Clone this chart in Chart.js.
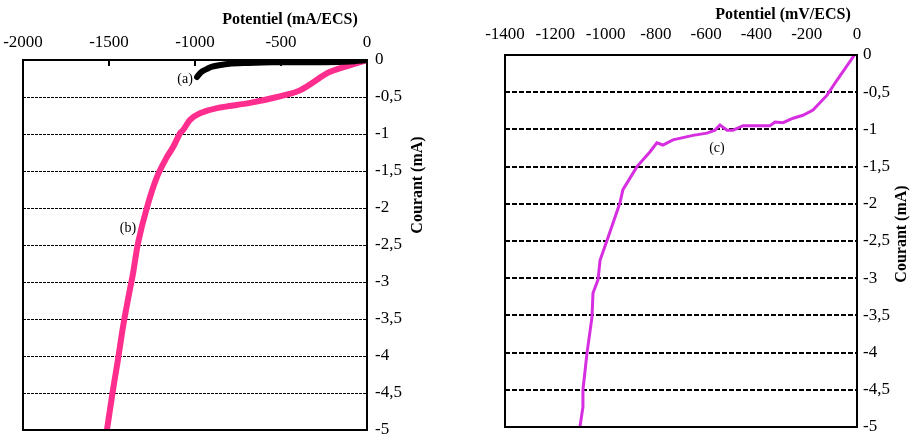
<!DOCTYPE html>
<html lang="fr">
<head>
<meta charset="UTF-8">
<title>Courbes de polarisation</title>
<style>
    body { margin: 0; background: #fff; }
    .panel { position: absolute; top: 0; }
    #left { left: 0; }
    #right { left: 457px; }
</style>
</head>
<body>
<div class="panel" id="left"><canvas id="chartLeft" width="457" height="435"></canvas></div>
<div class="panel" id="right"><canvas id="chartRight" width="457" height="435"></canvas></div>

<script src="https://cdn.jsdelivr.net/npm/chart.js"></script>
<script>
// courbe (a) - noir
const potA = [-988, -975, -955, -930, -900, -860, -800, -700, -550, -400, -250, -100, 0];
const courantA = [-0.23, -0.19, -0.15, -0.12, -0.09, -0.07, -0.05, -0.04, -0.03, -0.03, -0.03, -0.02, 0];

// courbe (b) - rose
const potB = [-1512, -1477, -1448, -1419, -1390, -1360, -1331, -1279, -1221, -1163, -1128, -1087, -1070, -1029, -971, -872, -680, -523, -390, -215, -40, 0];
const courantB = [-5.0, -4.46, -4.05, -3.61, -3.24, -2.88, -2.47, -1.99, -1.58, -1.31, -1.18, -0.99, -0.95, -0.81, -0.72, -0.65, -0.58, -0.50, -0.41, -0.16, -0.03, 0];

// courbe (c) - magenta
const potC = [-1102, -1090, -1090, -1074, -1054, -1050, -1030, -1022, -994, -943, -931, -875, -823, -796, -772, -732, -652, -597, -565, -545, -517, -493, -453, -414, -346, -326, -294, -254, -215, -175, -119, -80, -10];
const courantC = [-5.0, -4.73, -4.50, -4.01, -3.52, -3.20, -3.02, -2.76, -2.49, -1.99, -1.81, -1.50, -1.30, -1.18, -1.21, -1.14, -1.08, -1.05, -1.01, -0.94, -1.01, -1.01, -0.95, -0.95, -0.95, -0.90, -0.91, -0.85, -0.81, -0.74, -0.54, -0.34, 0];

const ticksLeft = [-2000, -1500, -1000, -500, 0];
const ticksRight = [-1400, -1200, -1000, -800, -600, -400, -200, 0];

Chart.defaults.font.family = "'Liberation Serif', 'Times New Roman', serif";
Chart.defaults.color = '#000';

function points(xs, ys) {
    return xs.map((x, i) => ({ x: x, y: ys[i] }));
}

function virgule(v) {
    return String(v).replace('.', ',');
}

// cadre, titres d'axes et étiquettes (a), (b), (c)
function cadre(cfg) {
    return {
        id: 'cadre',
        afterDatasetsDraw(chart) {
            const ctx = chart.ctx;
            const a = chart.chartArea;
            const sx = chart.scales.x, sy = chart.scales.y;
            ctx.save();
            ctx.strokeStyle = '#000';
            ctx.lineWidth = 2;
            ctx.strokeRect(a.left, a.top, a.right - a.left, a.bottom - a.top);
            (cfg.marks || []).forEach(v => {
                const px = sx.getPixelForValue(v);
                ctx.beginPath();
                ctx.moveTo(px, a.top);
                ctx.lineTo(px, a.top + 6);
                ctx.stroke();
            });
            ctx.fillStyle = '#000';
            ctx.textAlign = 'center';
            ctx.textBaseline = 'middle';
            ctx.font = "bold 16px 'Liberation Serif', serif";
            ctx.fillText(cfg.titreX, cfg.titreXPos[0], cfg.titreXPos[1]);
            ctx.save();
            ctx.translate(cfg.titreYPos[0], cfg.titreYPos[1]);
            ctx.rotate(-Math.PI / 2);
            ctx.fillText(cfg.titreY, 0, 0);
            ctx.restore();
            ctx.font = "14px 'Liberation Serif', serif";
            cfg.etiquettes.forEach(e => {
                ctx.fillText(e.texte, sx.getPixelForValue(e.x), sy.getPixelForValue(e.y));
            });
            ctx.restore();
        }
    };
}

function makeChart(id, opt) {
    return new Chart(document.getElementById(id), {
        type: 'line',
        data: { datasets: opt.datasets },
        options: {
            responsive: false,
            animation: false,
            layout: { padding: opt.padding },
            plugins: { legend: { display: false }, tooltip: { enabled: false } },
            elements: { point: { radius: 0 } },
            scales: {
                x: {
                    type: 'linear',
                    position: 'top',
                    min: opt.xTicks[0],
                    max: 0,
                    afterBuildTicks: s => { s.ticks = opt.xTicks.map(v => ({ value: v })); },
                    afterFit: s => { s.height = opt.xHeight; s.paddingLeft = 0; s.paddingRight = 0; },
                    grid: { display: false, drawTicks: false },
                    border: { display: false },
                    ticks: { font: { size: 17 }, padding: opt.xPad, maxRotation: 0, callback: v => String(v) }
                },
                y: {
                    type: 'linear',
                    position: 'right',
                    min: -5,
                    max: 0,
                    afterFit: s => { s.width = opt.yWidth; s.paddingTop = 0; s.paddingBottom = 0; },
                    grid: { color: '#000', lineWidth: opt.gridWidth, drawTicks: false },
                    border: { display: false, dash: opt.dash },
                    ticks: { stepSize: 0.5, font: { size: 17 }, padding: opt.yPad, callback: v => virgule(v) }
                }
            }
        },
        plugins: [cadre(opt.cadre)]
    });
}

makeChart('chartLeft', {
    padding: { left: 23, top: 0, right: 0, bottom: 5 },
    xTicks: ticksLeft,
    xHeight: 60,
    xPad: 7,
    yWidth: 90,
    yPad: 8,
    gridWidth: 1,
    dash: [3, 1],
    datasets: [
        { data: points(potA, courantA), borderColor: '#000', borderWidth: 6, tension: 0.3, borderCapStyle: 'round' },
        { data: points(potB, courantB), borderColor: '#ff2d8d', borderWidth: 6, tension: 0.3 }
    ],
    cadre: {
        marks: [-1500, -1000, -500],
        titreX: 'Potentiel (mA/ECS)', titreXPos: [290, 20],
        titreY: 'Courant (mA)', titreYPos: [418, 185],
        etiquettes: [{ texte: '(a)', x: -1058, y: -0.26 }, { texte: '(b)', x: -1390, y: -2.28 }]
    }
});

makeChart('chartRight', {
    padding: { left: 48, top: 0, right: 0, bottom: 8 },
    xTicks: ticksRight,
    xHeight: 55,
    xPad: 10,
    yWidth: 57,
    yPad: 6,
    gridWidth: 2,
    dash: [5, 2],
    datasets: [
        { data: points(potC, courantC), borderColor: '#d62ee0', borderWidth: 3, tension: 0 }
    ],
    cadre: {
        marks: [],
        titreX: 'Potentiel (mV/ECS)', titreXPos: [326, 15],
        titreY: 'Courant (mA)', titreYPos: [445, 234],
        etiquettes: [{ texte: '(c)', x: -557, y: -1.26 }]
    }
});
</script>
</body>
</html>
